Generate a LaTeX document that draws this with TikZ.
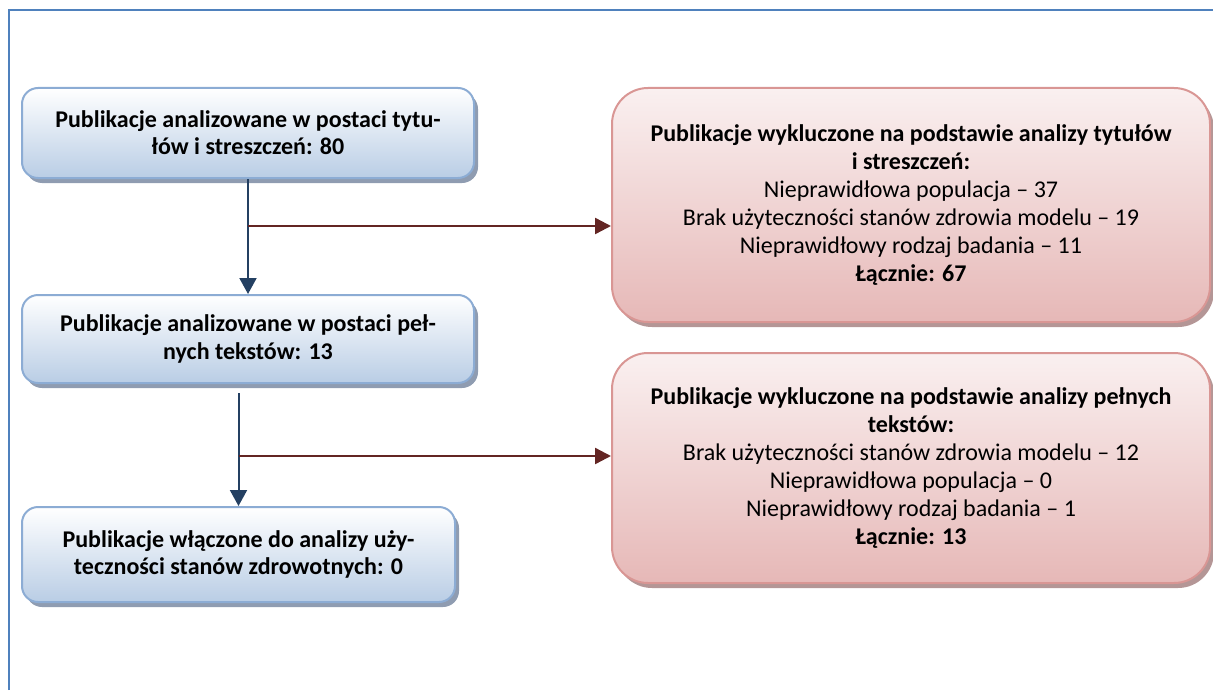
\documentclass[tikz,border=0pt]{standalone}
\usepackage{fontspec}
\setmainfont{Carlito}
\usetikzlibrary{arrows.meta,shadows}
\definecolor{frameblue}{RGB}{79,129,189}
\definecolor{boxedgeblue}{RGB}{140,172,212}
\definecolor{boxfillblue}{RGB}{185,205,229}
\definecolor{shadowblue}{RGB}{143,156,177}
\definecolor{boxedgered}{RGB}{217,150,148}
\definecolor{boxfillred}{RGB}{230,184,183}
\definecolor{boxtopred}{RGB}{250,240,240}
\definecolor{shadowred}{RGB}{180,150,150}
\definecolor{arrowblue}{RGB}{36,64,98}
\definecolor{arrowred}{RGB}{99,37,35}

\begin{document}
\begin{tikzpicture}[x=0.5pt,y=-0.5pt,
  bluebox/.style={draw=boxedgeblue,line width=1pt,rounded corners=8pt,
    top color=white,bottom color=boxfillblue,align=center,inner sep=0pt,
    font=\fontsize{12}{13.6}\selectfont\bfseries,
    drop shadow={shadow xshift=2pt,shadow yshift=-2.5pt,fill=shadowblue,opacity=1}},
  redbox/.style={draw=boxedgered,line width=1pt,rounded corners=18pt,
    top color=boxtopred,bottom color=boxfillred,align=center,inner sep=0pt,
    minimum width=299pt,font=\fontsize{12}{14}\selectfont,
    drop shadow={shadow xshift=2pt,shadow yshift=-2.5pt,fill=shadowred,opacity=1}},
  downarrow/.style={draw=arrowblue,line width=1pt,-{Triangle[length=8pt,width=8.5pt]}},
  rightarrow/.style={draw=arrowred,line width=1.2pt,-{Triangle[length=8pt,width=8pt]}}]
  \useasboundingbox (0,0) rectangle (1213,690);
  \draw[frameblue,line width=1.2pt] (9,690) -- (9,10) -- (1213,10);
  % left column
  \node[bluebox,minimum width=226pt,minimum height=45pt] (titles) at (248,133)
    {Publikacje analizowane w postaci tytu-\\łów i streszczeń: 80};
  \node[bluebox,minimum width=226pt,minimum height=44pt] (fulltexts) at (248,339)
    {Publikacje analizowane w postaci peł-\\nych tekstów: 13};
  \node[bluebox,minimum width=216.5pt,minimum height=47.5pt] (included) at (238.5,554.5)
    {Publikacje włączone do analizy uży-\\teczności stanów zdrowotnych: 0};
  % right column
  \node[redbox,minimum height=117pt] (exclA) at (911,205)
    {\textbf{Publikacje wykluczone na podstawie analizy tytułów}\\
     \textbf{i streszczeń:}\\
     Nieprawidłowa populacja – 37\\
     Brak użyteczności stanów zdrowia modelu – 19\\
     Nieprawidłowy rodzaj badania – 11\\
     \textbf{Łącznie: 67}};
  \node[redbox,minimum height=115pt] (exclB) at (911,468)
    {\textbf{Publikacje wykluczone na podstawie analizy pełnych}\\
     \textbf{tekstów:}\\
     Brak użyteczności stanów zdrowia modelu – 12\\
     Nieprawidłowa populacja – 0\\
     Nieprawidłowy rodzaj badania – 1\\
     \textbf{Łącznie: 13}};
  % connectors
  \coordinate (forkA) at (248,226);
  \coordinate (forkB) at (238.5,456);
  \draw[downarrow] (titles.south) -- (fulltexts.north);
  \draw[rightarrow] (forkA) -- (forkA -| exclA.west);
  \draw[downarrow] ([yshift=-4.5pt]included.north |- fulltexts.south) -- (included.north);
  \draw[rightarrow] (forkB) -- (forkB -| exclB.west);
\end{tikzpicture}
\end{document}
